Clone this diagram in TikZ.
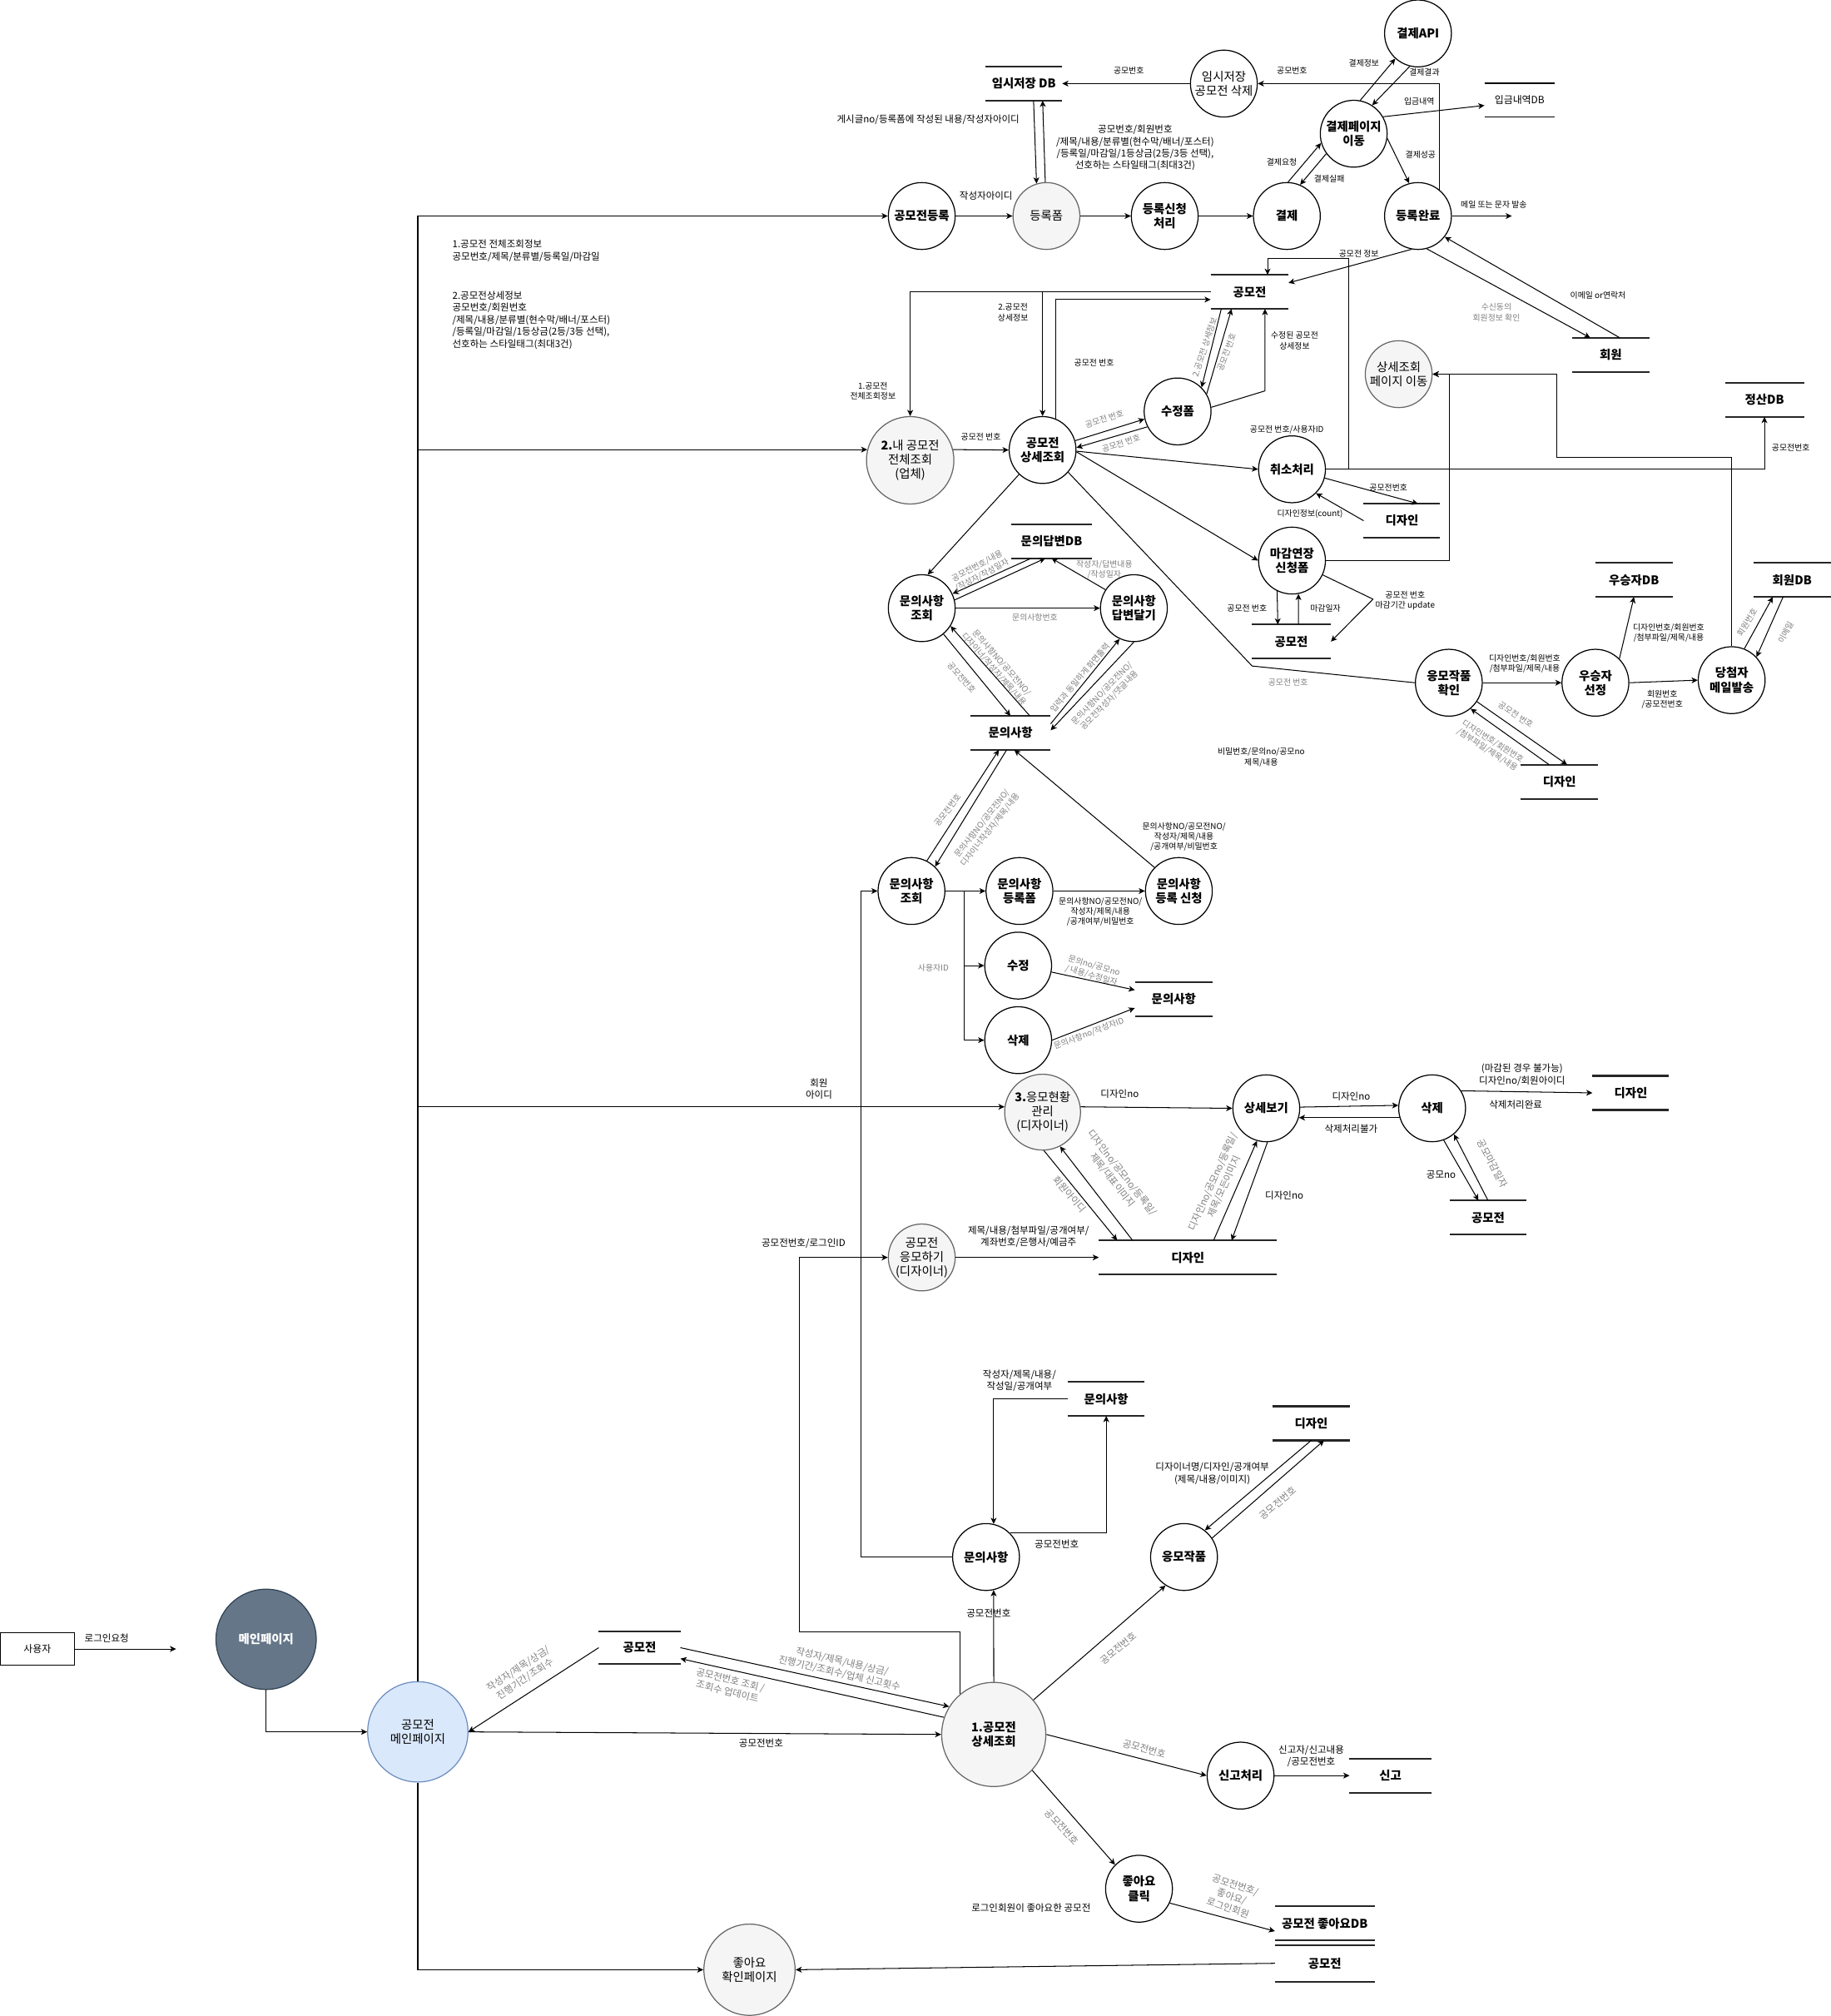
\documentclass[tikz,border=0pt]{standalone}
\usepackage{fontspec}
\setmainfont{Noto Sans CJK KR}
\usetikzlibrary{arrows.meta}
\definecolor{grayfill}{HTML}{F5F5F5}
\definecolor{grayline}{HTML}{666666}
\definecolor{bluefill}{HTML}{DAE8FC}
\definecolor{blueline}{HTML}{6C8EBF}
\definecolor{slatefill}{HTML}{647687}
\definecolor{slateline}{HTML}{314354}
\definecolor{lblgray}{HTML}{7F7F7F}
\begin{document}
\begin{tikzpicture}[x=0.75pt,y=-0.75pt,
  proc/.style={circle, draw=black, line width=0.6pt, fill=white, minimum size=39pt, inner sep=0pt, align=center, font=\fontsize{7}{8.3}\selectfont\bfseries},
  procg/.style={proc, fill=grayfill, draw=grayline, font=\fontsize{7}{8.3}\selectfont},
  store/.style={rectangle, inner sep=0pt, minimum height=19.5pt, minimum width=#1, align=center, font=\fontsize{7}{8.3}\selectfont\bfseries,
     append after command={(\tikzlastnode.north west) edge[storeline] (\tikzlastnode.north east)
                           (\tikzlastnode.south west) edge[storeline] (\tikzlastnode.south east)}},
  thinstore/.style={rectangle, inner sep=0pt, minimum height=19.5pt, minimum width=#1, align=center, font=\fontsize{5.8}{7}\selectfont,
     append after command={(\tikzlastnode.north west) edge[thinline] (\tikzlastnode.north east)
                           (\tikzlastnode.south west) edge[thinline] (\tikzlastnode.south east)}},
  storeline/.style={draw=black!85, line width=1.1pt, -},
  thinline/.style={draw=black, line width=0.5pt, -},
  userbox/.style={rectangle, draw=black, line width=0.5pt, minimum width=43.5pt, minimum height=18.75pt, inner sep=0pt, font=\fontsize{5.8}{7}\selectfont},
  flow/.style={draw=black, line width=0.5pt, -{Stealth[length=3.6pt,width=3.4pt,inset=1pt]}},
  conn/.style={draw=black, line width=0.5pt},
  lbl/.style={font=\fontsize{5.6}{7}\selectfont, align=center, inner sep=0.5pt},
  lbls/.style={font=\fontsize{4.8}{5.9}\selectfont, align=center, inner sep=0.5pt},
  glbl/.style={lbl, text=lblgray},
  glbls/.style={lbls, text=lblgray},
]
\useasboundingbox (0,0) rectangle (1424,1568);

% ---------- registration and payment ----------
\node[proc] (api) at (1103,26) {결제API};
\node[proc, font=\fontsize{7}{8.3}\selectfont] (tmpdel) at (952,65) {임시저장\\공모전 삭제};
\node[proc] (paypage) at (1053,104) {결제페이지\\이동};
\node[proc] (reg) at (717,168) {공모전등록};
\node[procg] (regform) at (814,168) {등록폼};
\node[proc] (regreq) at (906,168) {등록신청\\처리};
\node[proc] (pay) at (1001,168) {결제};
\node[proc] (done) at (1103,168) {등록완료};
\node[store=44.25pt] (tmpdb) at (796.5,65) {임시저장 DB};
\node[thinstore=40.5pt] (deposit) at (1182,78) {입금내역DB};

\draw[flow] (tmpdel.west) -- (tmpdb.east);
\node[lbls] (l1) at (878,55) {공모번호};
\draw[flow] (done.50) |- (tmpdel.east);
\node[lbls] (l2) at (1005,55) {공모번호};
\draw[flow] (paypage.79) -- (api.228);
\node[lbls] (l3) at (1061,49) {결제정보};
\draw[flow] (api.256) -- (paypage.57);
\node[lbls] (l4) at (1108,56) {결제결과};
\draw[flow] (paypage.30) -- ([yshift=-3pt]deposit.west);
\node[lbls] (l5) at (1104,79) {입금내역};
\draw[flow] (paypage.-8) -- (done.105);
\node[lbls] (l6) at (1105,120) {결제성공};
\draw[flow] (pay.88) -- (paypage.196);
\node[lbls] (l7) at (997,126) {결제요청};
\draw[flow] (paypage.216) -- (pay.67);
\node[lbls] (l8) at (1034,139) {결제실패};
\draw[flow] (reg) -- (regform);
\node[lbl] (l9) at (767,152) {작성자아이디};
\draw[flow] (regform) -- (regreq);
\draw[flow] (regreq) -- (pay);
\coordinate (mailout) at (1176,168);
\draw[flow] (done.east) -- (mailout);
\node[lbls] (l10) at (1162,159) {메일 또는 문자 발송};
\draw[flow] ([xshift=5.6pt]tmpdb.south) -- (regform.107);
\draw[flow] (regform.92) -- ([xshift=10.9pt]tmpdb.south);
\node[lbl] (l11) at (722,93) {게시글no/등록폼에 작성된 내용/작성자아이디};
\node[lbl] (l12) at (883,115) {공모번호/회원번호\\/제목/내용/분류별(현수막/배너/포스터)\\/등록일/마감일/1등상금(2등/3등 선택),\\선호하는 스타일태그(최대3건)};

\node[lbl, align=left, anchor=west] (l13) at (351,195) {1.공모전 전체조회정보\\공모번호/제목/분류별/등록일/마감일};
\node[lbl, align=left, anchor=west] (l14) at (351,249) {2.공모전상세정보\\공모번호/회원번호\\/제목/내용/분류별(현수막/배너/포스터)\\/등록일/마감일/1등상금(2등/3등 선택),\\선호하는 스타일태그(최대3건)};

% ---------- contest management (company) ----------
\node[procg, minimum size=51pt] (mylist) at (708,358) {{\bfseries 2.}내 공모전\\전체조회\\(업체)};
\node[proc] (detail) at (811,350) {공모전\\상세조회};
\node[proc] (editform) at (916,320) {수정폼};
\node[proc] (cancel) at (1005,365) {취소처리};
\node[procg] (gotodetail) at (1088,291) {상세조회\\페이지 이동};
\node[proc] (extend) at (1005,436) {마감연장\\신청폼};
\node[proc] (entry) at (1127,531) {응모작품\\확인};
\node[proc] (winner) at (1241,531) {우승자\\선정};
\node[proc] (mail) at (1347,529) {당첨자\\메일발송};
\node[store=45pt] (cst1) at (972,227) {공모전};
\node[store=45pt] (member) at (1253,276) {회원};
\node[store=45.75pt] (settle) at (1372.5,311) {정산DB};
\node[store=44.25pt] (des1) at (1090.5,405) {디자인};
\node[store=45.75pt] (cst2) at (1004.5,499) {공모전};
\node[store=45pt] (windb) at (1271,451) {우승자DB};
\node[store=45pt] (memdb) at (1394,451) {회원DB};
\node[store=45pt] (des2) at (1213,608) {디자인};

\draw[flow] (done.259) -- ([yshift=5.25pt]cst1.east);
\node[lbls] (l16) at (1057,197) {공모전 정보};
\draw[flow] (cancel.east) -| (settle.south);
\node[lbls] (l17) at (1393,348) {공모전번호};
\draw[flow] (cancel.east) -| (1049,201) -| ([xshift=10.5pt]cst1.north);
\draw[flow] (cst1.west) -| (mylist.north);
\draw[flow] (cst1.west -| detail.north) -- (detail.north);
\node[lbls] (l18) at (679,304) {1.공모전\\전체조회정보};
\node[lbls] (l19) at (788,243) {2.공모전\\상세정보};
\draw[flow] (detail.67) |- ([yshift=-4.5pt]cst1.west);
\node[lbls] (l20) at (851,282) {공모전 번호};
\draw[flow] (mylist.14) -- (detail.west);
\node[lbls] (l21) at (763,340) {공모전 번호};
\draw[flow] (detail.16) -- (editform.193);
\node[glbls, rotate=18] (l22) at (859,326) {공모전 번호};
\draw[flow] (editform.207) -- (detail.4);
\node[glbls, rotate=18] (l23) at (872,345) {공모전 번호};
\draw[flow] ([xshift=-16.5pt]cst1.south) -- (editform.45);
\node[glbls, rotate=72] (l24) at (937,270) {2.공모전 상세정보};
\draw[flow] (editform.31) -- ([xshift=-10.5pt]cst1.south);
\node[glbls, rotate=70] (l25) at (954,274) {공모전 번호};
\draw[flow] (editform.7) -- (984,304) -- ([xshift=9pt]cst1.south);
\node[lbls] (l26) at (1007,265) {수정된 공모전\\상세정보};
\draw[flow] (detail.-2) -- (cancel.west);
\node[lbls] (l27) at (1001,334) {공모전 번호/사용자ID};
\draw[flow] (cancel.-15) -- ([xshift=9.4pt]des1.north);
\node[lbls] (l28) at (1080,379) {공모전번호};
\draw[flow] (des1.west) -- (cancel.-45);
\node[lbls] (l29) at (1019,400) {디자인정보(count)};
\draw[flow] (done.-75) -- ([xshift=-12pt]member.north);
\node[glbls] (l30) at (1164,243) {수신동의\\회원정보 확인};
\draw[flow] ([xshift=5.25pt]member.north) -- (done.-38);
\node[lbls] (l31) at (1243,230) {이메일 or연락처};
\draw[flow] (detail.-3) -- (extend.west);
\draw[conn] (detail.-41) -- (974,518) -- (entry.west);
\node[glbls] (l32) at (1002,531) {공모전 번호};
\draw[flow] (extend.244) -- ([xshift=-7.9pt]cst2.north);
\node[lbls] (l33) at (970,473) {공모전 번호};
\draw[flow] ([xshift=4.1pt]cst2.north) -- (extend.-79);
\node[lbls] (l34) at (1031,473) {마감일자};
\draw[flow] (extend.-25) -- (1068,466) -- (cst2.east);
\node[lbls] (l35) at (1093,467) {공모전 번호\\마감기간 update};
\draw[flow] (extend.east) -| ([xshift=9.75pt]gotodetail.east) -- (gotodetail.east);
\draw[flow] (mail.north) |- (1211,356) |- (gotodetail.east);
\draw[flow] (entry.east) -- (winner.west);
\node[lbls] (l36) at (1186,516) {디자인번호/회원번호\\/첨부파일/제목/내용};
\draw[flow] (winner.45) -- (windb.south);
\node[lbls] (l37) at (1298,492) {디자인번호/회원번호\\/첨부파일/제목/내용};
\draw[flow] (winner.east) -- (mail.west);
\node[lbls] (l38) at (1293,544) {회원번호\\/공모전번호};
\draw[flow] (mail.68) -- ([xshift=-11.25pt]memdb.south);
\node[glbls, rotate=58] (l39) at (1359,484) {회원번호};
\draw[flow] ([xshift=-5.25pt]memdb.south) -- (mail.43);
\node[glbls, rotate=62] (l40) at (1389,492) {이메일};
\draw[flow] (entry.-34) -- ([xshift=4.5pt]des2.north);
\node[glbls, rotate=-33] (l41) at (1179,556) {공모전 번호};
\draw[flow] ([xshift=-6pt]des2.north) -- (entry.-50);
\node[glbls, rotate=-33] (l42) at (1159,580) {디자인번호/회원번호\\/첨부파일/제목/내용};
\node[lbls] (l43) at (981,589) {비밀번호/문의no/공모no\\제목/내용};

% ---------- questions and answers ----------
\node[proc] (qview) at (717,473) {문의사항\\조회};
\node[proc] (qans) at (882,473) {문의사항\\답변달기};
\node[store=46.5pt] (ansdb) at (818,421) {문의답변DB};
\node[store=46.5pt] (qst1) at (786,570) {문의사항};
\draw[flow] (detail.226) -- (qview.80);
\draw[flow] (qview.14) -- ([xshift=-3.75pt]ansdb.south);
\draw[flow] ([xshift=-12pt]ansdb.south) -- (qview.25);
\node[glbls, rotate=28] (l44) at (762,444) {공모전번호/내용\\/작성자/작성일자};
\draw[flow] (qans.147) -- (ansdb.south);
\node[glbls] (l45) at (859,443) {작성자/답변내용\\/작성일자};
\draw[flow] (qview.east) -- (qans.west);
\node[glbls] (l46) at (805,480) {문의사항번호};
\draw[flow] (qview.-50) -- (qst1.north);
\node[glbls, rotate=-49] (l47) at (748,527) {공모전번호};
\draw[flow] ([xshift=11.25pt]qst1.north) -- (qview.-32);
\node[glbls, rotate=-49] (l48) at (776,518) {문의사항NO/공모전NO/\\디자이너/작성자/제목/내용};
\draw[flow] ([yshift=5.25pt]qst1.east) -- (qans.245);
\node[glbls, rotate=50] (l49) at (840,527) {입력과 동일하게 화면출력};
\draw[flow] (qans.-90) -- ([yshift=1.5pt]qst1.east);
\node[glbls, rotate=46] (l50) at (860,542) {문의사항NO/공모전NO/\\공모전작성자/댓글내용};

\node[proc] (qview2) at (709,693) {문의사항\\조회};
\node[proc] (qform) at (793,693) {문의사항\\등록폼};
\node[proc] (qsubmit) at (917,693) {문의사항\\등록 신청};
\node[proc] (qedit) at (792,751) {수정};
\node[proc] (qdel) at (792,809) {삭제};
\node[store=45pt] (qst2) at (913,777) {문의사항};
\draw[flow] (qview2.63) -- ([xshift=-6.75pt]qst1.south);
\node[glbls, rotate=52] (l51) at (737,630) {공모전번호};
\draw[flow] ([xshift=-2.25pt]qst1.south) -- (qview2.46);
\node[glbls, rotate=52] (l52) at (767,643) {문의사항NO/공모전NO/\\디자이너작성자/제목/내용};
\draw[flow] (qsubmit.136) -- ([xshift=2.25pt]qst1.south);
\node[lbls] (l53) at (921,651) {문의사항NO/공모전NO/\\작성자/제목/내용\\/공개여부/비밀번호};
\draw[flow] (qview2.east) -- (qform.west);
\coordinate (qsplit) at (750,693);
\draw[flow] (qsplit) |- (qedit.west);
\draw[flow] (qsplit) |- (qdel.west);
\draw[flow] (qform.east) -- (qsubmit.west);
\node[lbls] (l54) at (856,709) {문의사항NO/공모전NO/\\작성자/제목/내용\\/공개여부/비밀번호};
\node[glbls] (l55) at (726,753) {사용자ID};
\draw[flow] (qedit.-11) -- ([yshift=5.25pt]qst2.west);
\node[glbls, rotate=-16] (l56) at (850,755) {문의no/공모no\\/ 내용/수정일자};
\draw[flow] (qdel.0) -- ([yshift=-5.25pt]qst2.west);
\node[glbls, rotate=21] (l57) at (847,804) {문의사항no/작성자ID};

% ---------- application status (designer) ----------
\node[procg, minimum size=44.25pt] (apply) at (811,865) {{\bfseries 3.}응모현황\\관리\\(디자이너)};
\node[proc] (dview) at (985,862) {상세보기};
\node[proc] (ddel) at (1114,862) {삭제};
\node[procg] (submit) at (717,978) {공모전\\응모하기\\(디자이너)};
\node[store=44.25pt] (des3) at (1268.5,850) {디자인};
\node[store=44.25pt] (cst3) at (1157.5,947) {공모전};
\node[store=103.5pt] (des4) at (924,978) {디자인};
\draw[flow] (apply.8) -- (dview.west);
\node[lbl] (l58) at (871,851) {디자인no};
\draw[flow] (dview.2) -- (ddel.175);
\node[lbl] (l59) at (1051,853) {디자인no};
\draw[flow] (ddel.196) -- (dview.-16);
\node[lbl] (l60) at (1051,878) {삭제처리불가};
\draw[flow] (ddel.31) -- (des3.west);
\node[lbl] (l61) at (1184,836) {(마감된 경우 불가능)\\디자인no/회원아이디};
\node[lbl] (l62) at (1179,859) {삭제처리완료};
\draw[flow] (ddel.-70) -- ([xshift=-5.6pt]cst3.north);
\node[lbl] (l63) at (1121,914) {공모no};
\draw[flow] (cst3.north) -- (ddel.-50);
\node[glbl, rotate=-62] (l64) at (1161,905) {공모마감일자};
\draw[flow] (apply.-88) -- ([xshift=-41.25pt]des4.north);
\node[glbl, rotate=-50] (l65) at (832,929) {회원아이디};
\draw[flow] ([xshift=-32.25pt]des4.north) -- (apply.-63);
\node[glbl, rotate=-52] (l66) at (869,915) {디자인no/공모no/등록일/\\제목/대표이미지};
\draw[flow] ([xshift=15pt]des4.north) -- (dview.254);
\node[glbl, rotate=66] (l67) at (948,921) {디자인no/공모no/등록일/\\제목/모든이미지};
\draw[flow] (dview.-88) -- ([xshift=25.5pt]des4.north);
\node[lbl] (l68) at (999,930) {디자인no};
\draw[flow] (submit.east) -- (des4.west);
\node[lbl] (l69) at (800,962) {제목/내용/첨부파일/공개여부/\\계좌번호/은행사/예금주};

% ---------- contest detail (visitor) ----------
\node[proc] (qa3) at (767,1211) {문의사항};
\node[proc] (works) at (921,1211) {응모작품};
\node[procg, minimum size=60.75pt, font=\fontsize{7}{8.3}\selectfont\bfseries] (cdetail) at (773,1349) {1.공모전\\상세조회};
\node[proc] (report) at (965,1381) {신고처리};
\node[proc] (like) at (886,1469) {좋아요\\클릭};
\node[procg, minimum size=53.25pt] (likepage) at (583,1532) {좋아요\\확인페이지};
\node[proc, fill=bluefill, draw=blueline, minimum size=58.5pt, font=\fontsize{7}{8.3}\selectfont] (cmain) at (325,1347) {공모전\\메인페이지};
\node[proc, fill=slatefill, draw=slateline, minimum size=58.5pt, text=white] (main) at (207,1275) {메인페이지};
\node[userbox] (user) at (29,1282.5) {사용자};
\node[store=44.25pt] (qst3) at (860.5,1088) {문의사항};
\node[store=45pt] (des5) at (1020,1107) {디자인};
\node[store=47.25pt, minimum height=18.75pt] (cst4) at (497.5,1281.5) {공모전};
\node[store=47.25pt] (repdb) at (1081.5,1381) {신고};
\node[store=57.75pt] (likedb) at (1030.5,1496) {공모전 좋아요DB};
\node[store=57.75pt, minimum height=21pt] (cst5) at (1030.5,1527) {공모전};

% main trunk from the contest main page
\draw[flow] (cmain.north) |- (reg.west);
\draw[flow] (cmain.north) |- (mylist.166);
\draw[flow] (cmain.north) |- (apply.172);
\node[lbl] (l15) at (637,847) {회원\\아이디};

\draw[flow] (cdetail.130) |- (622,1269) |- (submit.west);
\node[lbl] (l70) at (625,967) {공모전번호/로그인ID};
\draw[flow] (qa3.west) -| ([xshift=-9.75pt]qview2.west) -- (qview2.west);
\draw[flow] (qst3.west) -| (qa3.77);
\node[lbl] (l71) at (793,1074) {작성자/제목/내용/\\작성일/공개여부};
\draw[flow] (qa3.45) -| (qst3.south);
\node[lbl] (l72) at (822,1201) {공모전번호};
\draw[flow] (des5.south) -- (works.52);
\node[lbl] (l73) at (943,1146) {디자이너명/디자인/공개여부\\(제목/내용/이미지)};
\draw[flow] (works.34) -- ([xshift=7.5pt]des5.south);
\node[glbl, rotate=40] (l74) at (994,1169) {공모전번호};
\draw[flow] (cdetail.north) -- (qa3.-77);
\node[lbl] (l75) at (769,1255) {공모전번호};
\draw[flow] (cdetail.41) -- (works.237);
\node[glbl, rotate=40] (l76) at (870,1282) {공모전번호};
\draw[flow] (cdetail.east) -- (report.west);
\node[glbl, rotate=-15] (l77) at (890,1360) {공모전번호};
\draw[flow] (report.east) -- (repdb.west);
\node[lbl] (l78) at (1020,1366) {신고자/신고내용\\/공모전번호};
\draw[flow] (cdetail.-43) -- (like.135);
\node[glbl, rotate=-48] (l79) at (826,1421) {공모전번호};
\draw[flow] (like.-25) -- ([yshift=-4.5pt]likedb.west);
\node[glbl, rotate=-18] (l80) at (958,1475) {공모전번호/\\좋아요/\\로그인회원};
\node[lbl] (l81) at (802,1484) {로그인회원이 좋아요한 공모전};
\draw[flow] (cst5.west) -- (likepage.east);
\draw[flow] (cmain.south) |- (likepage.west);
\draw[flow] (cmain.east) -- (cdetail.west);
\node[lbl] (l82) at (592,1356) {공모전번호};
\draw[flow] (cst4.west) -- (cmain.east);
\node[glbl, rotate=34] (l83) at (406,1302) {작성자/제목/상금/\\진행기간/조회수};
\draw[flow] (cst4.east) -- (cdetail.148);
\node[glbl, rotate=-13] (l84) at (654,1297) {작성자/제목/내용/상금/\\진행기간/조회수/업체 신고횟수};
\draw[flow] (cdetail.161) -- ([yshift=-6.4pt]cst4.east);
\node[glbl, rotate=-14] (l85) at (567,1311) {공모전번호 조회 /\\조회수 업데이트};
\draw[flow] (main.south) |- (cmain.west);
\coordinate (loginout) at (137,1282.5);
\draw[flow] (user.east) -- (loginout);
\node[lbl] (l86) at (83,1274) {로그인요청};
\end{tikzpicture}
\end{document}
